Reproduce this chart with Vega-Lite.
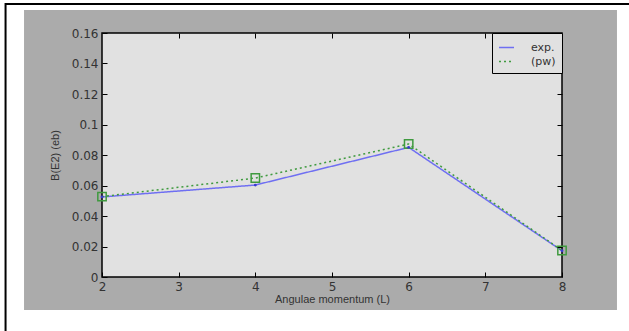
{
  "$schema": "https://vega.github.io/schema/vega-lite/v6.json",
  "autosize": "none",
  "width": 460,
  "height": 244,
  "padding": {"left": 102, "top": 33, "right": 67, "bottom": 54},
  "background": "white",
  "config": {
    "font": "Liberation Sans",
    "view": {"stroke": null, "fill": null},
    "axis": {"labelFont": "DejaVu Sans", "titleFont": "Liberation Sans", "labelColor": "#333", "titleColor": "#333", "labelFontSize": 12, "titleFontSize": 11, "titleFontWeight": "normal", "domainColor": "black", "tickColor": "black", "grid": false, "labelOverlap": false, "labelFlush": false}
  },
  "resolve": {"axis": {"x": "independent", "y": "independent"}},
  "data": {"values": [
    {"L": 2, "B": 0.0525, "series": "exp."},
    {"L": 4, "B": 0.0603, "series": "exp."},
    {"L": 6, "B": 0.085, "series": "exp."},
    {"L": 8, "B": 0.0172, "series": "exp."},
    {"L": 2, "B": 0.0527, "series": "(pw)"},
    {"L": 4, "B": 0.0649, "series": "(pw)"},
    {"L": 6, "B": 0.0872, "series": "(pw)"},
    {"L": 8, "B": 0.0174, "series": "(pw)"}
  ]},
  "layer": [
    {
      "data": {"values": [{}]},
      "mark": {"type": "rect", "fill": "#ababab", "stroke": null},
      "encoding": {
        "x": {"datum": 0.983, "type": "quantitative", "axis": null},
        "x2": {"datum": 8.717},
        "y": {"datum": -0.0216, "type": "quantitative", "axis": null},
        "y2": {"datum": 0.1751}
      }
    },
    {
      "data": {"values": [{}]},
      "mark": {"type": "rect", "fill": null, "stroke": "black", "strokeWidth": 2},
      "encoding": {
        "x": {"datum": 0.742, "type": "quantitative", "axis": null},
        "x2": {"datum": 9.2},
        "y": {"datum": -0.05, "type": "quantitative", "axis": null},
        "y2": {"datum": 0.179}
      }
    },
    {
      "data": {"values": [{}]},
      "mark": {"type": "rect", "fill": "#e1e1e1", "stroke": "black", "strokeWidth": 1.5},
      "encoding": {
        "x": {"datum": 2, "type": "quantitative", "axis": {"orient": "top", "zindex": 2, "values": [3,4,5,6,7], "tickSize": -5, "labels": false, "domain": false, "title": null}},
        "x2": {"datum": 8},
        "y": {"datum": 0, "type": "quantitative", "axis": {"orient": "right", "zindex": 2, "values": [0.02,0.04,0.06,0.08,0.1,0.12], "tickSize": -5, "labels": false, "domain": false, "title": null}},
        "y2": {"datum": 0.16}
      }
    },
    {
      "mark": {"type": "line", "strokeWidth": 1.5},
      "encoding": {
        "x": {"field": "L", "type": "quantitative", "title": "Angulae momentum (L)",
              "scale": {"domain": [2, 8], "nice": false, "zero": false},
              "axis": {"orient": "bottom", "zindex": 2, "values": [2,3,4,5,6,7,8], "format": "~g", "tickSize": -5, "labelPadding": 9, "titlePadding": 1, "domain": false}},
        "y": {"field": "B", "type": "quantitative", "title": "B(E2) (eb)",
              "scale": {"domain": [0, 0.16], "nice": false},
              "axis": {"orient": "left", "zindex": 2, "values": [0,0.02,0.04,0.06,0.08,0.1,0.12,0.14,0.16], "format": "~g", "tickSize": -5, "labelPadding": 9, "titlePadding": 11, "domain": false}},
        "color": {"field": "series", "type": "nominal", "sort": ["exp.", "(pw)"],
                  "scale": {"domain": ["exp.", "(pw)"], "range": ["#6f6ff2", "#3f9a3f"]},
                  "legend": {"title": null, "orient": "top-right", "offset": 0, "fillColor": "#e1e1e1", "strokeColor": "black", "padding": 6, "labelFont": "DejaVu Sans", "labelFontSize": 11, "labelColor": "#333", "labelOffset": 16, "symbolStrokeWidth": 1.5, "symbolSize": 225, "symbolType": "stroke", "rowPadding": 0}},
        "strokeDash": {"field": "series", "type": "nominal",
                  "scale": {"domain": ["exp.", "(pw)"], "range": [[1, 0], [2, 3]]},
                  "legend": null}
      }
    },
    {
      "transform": [{"filter": "datum.series === '(pw)'"}],
      "mark": {"type": "point", "shape": "square", "filled": false, "strokeWidth": 1.5, "color": "#3f9a3f", "size": 70, "opacity": 1},
      "encoding": {
        "x": {"field": "L", "type": "quantitative", "axis": null},
        "y": {"field": "B", "type": "quantitative", "axis": null}
      }
    },
    {
      "transform": [{"filter": "datum.series === 'exp.'"}],
      "mark": {"type": "point", "shape": "circle", "filled": true, "color": "#3a3ad0", "size": 8, "opacity": 1},
      "encoding": {
        "x": {"field": "L", "type": "quantitative", "axis": null},
        "y": {"field": "B", "type": "quantitative", "axis": null}
      }
    }
  ]
}
